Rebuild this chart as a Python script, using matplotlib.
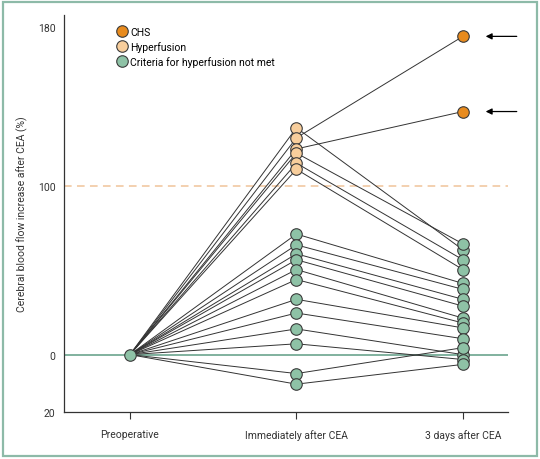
import numpy as np
import matplotlib
matplotlib.use("Agg")
import matplotlib.pyplot as plt
from matplotlib.lines import Line2D
from matplotlib.patches import Rectangle

plt.rcParams['font.family'] = ['Roboto', 'DejaVu Sans']

stages = ["Preoperative", "Immediately after CEA", "3 days after CEA"]

# per patient: change in CBF (%) at preop, immediately after, 3 days after
immediate = [129.2, 124.1, 118.5, 116.4, 111.3, 108.2,
             71.3, 64.9, 59.6, 56.1, 50.3, 44.4, 32.7, 24.6, 15.2, 6.4, -6.6, -10.3]
day3 = [62.0, 175.4, 137.4, 65.5, 56.1, 50.3,
        42.1, 38.6, 32.7, 28.7, 21.6, 18.7, 15.8, 9.4, 0.0, -1.7, 4.1, -3.4]
group_imm = ["hyper"] * 6 + ["none"] * 12
group_d3 = ["none", "chs", "chs", "none", "none", "none"] + ["none"] * 12

colors = {"chs": "#E88B1E", "hyper": "#F8CE9C", "none": "#8EC2A6"}
edge = "#3a3a3a"

# axis drawn with uneven spacing between the ticks in the original
anchors_v = [-40, -20, 0, 100, 200]
anchors_p = [-58, 0, 58, 229, 429]


def fwd(v):
    return np.interp(v, anchors_v, anchors_p)


def inv(p):
    return np.interp(p, anchors_p, anchors_v)


fig = plt.figure(figsize=(5.4, 4.6), dpi=100)
fig.patches.append(Rectangle((0.006, 0.006), 0.988, 0.988, transform=fig.transFigure,
                             fill=False, edgecolor="#8DBAA8", linewidth=1.6))
ax = fig.add_axes([0.1185, 0.1022, 0.822, 0.863])
ax.set_yscale("function", functions=(fwd, inv))

ax.axhline(0, color="#5E9C84", lw=1.1, zorder=1)
ax.axhline(100, color="#F0C39A", lw=1.1, ls=(0, (5, 3.5)), zorder=1)

for a, b in zip(immediate, day3):
    ax.plot([0, 1, 2], [0, a, b], color="#333333", lw=0.7, zorder=2)

ms = 8.3
ax.plot([0], [0], "o", ms=ms, mfc=colors["none"], mec=edge, mew=0.8, zorder=3)
for v, g in zip(immediate, group_imm):
    ax.plot([1], [v], "o", ms=ms, mfc=colors[g], mec=edge, mew=0.8, zorder=3)
for v, g in zip(day3, group_d3):
    ax.plot([2], [v], "o", ms=ms, mfc=colors[g], mec=edge, mew=0.8, zorder=3)

for v, g in zip(day3, group_d3):
    if g == "chs":
        ax.annotate("", xy=(2.12, v), xytext=(2.34, v), annotation_clip=False,
                    arrowprops=dict(arrowstyle="-|>", color="black", lw=0.9,
                                    mutation_scale=9))

ax.set_xlim(-0.396, 2.27)
ax.set_ylim(-20, 186.2)
ax.set_xticks([0, 1, 2])
ax.set_xticklabels(stages, fontsize=7.5, color="#333333")
ax.set_yticks([-20, 0, 100, 180])
ax.set_yticklabels(["20", "0", "100", "180"], fontsize=7.5, color="#333333")
ax.tick_params(axis="x", length=5, width=0.8, pad=7, color="#333333")
ax.tick_params(axis="y", length=0, pad=6)
ax.set_ylabel("Cerebral blood flow increase after CEA (%)", fontsize=7.5,
              color="#333333", labelpad=7)
for s in ["top", "right"]:
    ax.spines[s].set_visible(False)
for s in ["left", "bottom"]:
    ax.spines[s].set_linewidth(0.9)
    ax.spines[s].set_color("#333333")

handles = [Line2D([], [], ls="", marker="o", ms=8.3, mfc=colors[k], mec=edge, mew=0.8)
           for k in ["chs", "hyper", "none"]]
ax.legend(handles, ["CHS", "Hyperfusion", "Criteria for hyperfusion not met"],
          loc="upper left", bbox_to_anchor=(0.118, 0.97), frameon=False,
          fontsize=7.5, handlelength=1.0, handletextpad=0.35, labelspacing=0.4,
          borderpad=0, borderaxespad=0)

fig.savefig("out.png", dpi=100)
